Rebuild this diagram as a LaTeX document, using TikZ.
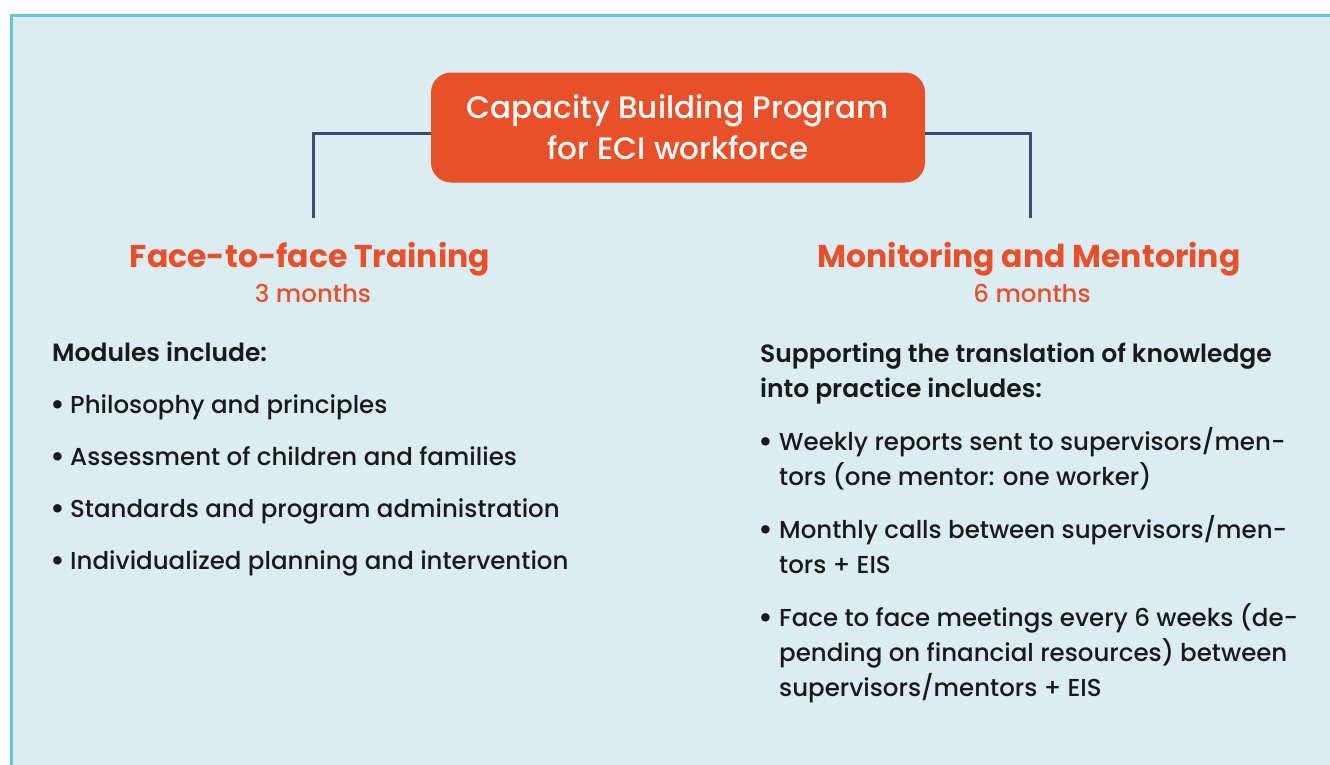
\documentclass[tikz,border=0pt]{standalone}
\usepackage{fontspec}
\setmainfont{Poppins}[UprightFont={* Medium}, BoldFont={* SemiBold}]
\newfontfamily\headfont{Poppins Bold}
\definecolor{panel}{HTML}{DBEDF3}
\definecolor{panelrule}{HTML}{6CC6D2}
\definecolor{accent}{HTML}{E8502A}
\definecolor{link}{HTML}{3D4E6D}
\definecolor{ink}{HTML}{1A1A1A}
\begin{document}
\begin{tikzpicture}[x=1pt,y=-1pt,
  titlebox/.style={fill=accent, rounded corners=20pt, minimum width=494pt,
    minimum height=110pt, text=white, align=center, inner sep=0pt,
    font=\fontsize{31}{41}\selectfont},
  heading/.style={anchor=base, inner sep=0pt, text=accent,
    font=\headfont\fontsize{31.5}{38}\selectfont},
  period/.style={anchor=base, inner sep=0pt, text=accent,
    font=\fontsize{24.5}{28}\selectfont},
  lead/.style={anchor=base west, inner sep=0pt, text=ink,
    font=\bfseries\fontsize{25}{28}\selectfont},
  item/.style={anchor=base west, inner sep=0pt, text=ink,
    font=\fontsize{24.5}{28}\selectfont},
  dot/.style={anchor=base west, inner sep=0pt, text=ink,
    font=\fontsize{32}{28}\selectfont},
  connector/.style={draw=link, line width=3pt}]
\useasboundingbox (0,0) rectangle (1330,764);
% background panel, open to the right and bottom
\fill[panel] (11.5,15.5) rectangle (1345,780);
\draw[panelrule, line width=3.5pt] (11.5,780) -- (11.5,15.5) -- (1345,15.5);

% central box
\node[titlebox] (title) at (678,127.5) {Capacity Building Program\\for ECI workforce};

% column headings
\node[heading] (lefthead) at (310,267) {Face-to-face Training};
\node[period] (leftperiod) at (313,302) {3 months};
\node[heading] (righthead) at (1029,267) {Monitoring and Mentoring};
\node[period] (rightperiod) at (1032,302) {6 months};

% connectors
\coordinate (lend) at (313,218);
\coordinate (rend) at (1030,218);
\draw[connector] ([yshift=-6pt]title.west) -| (lend);
\draw[connector] ([yshift=-6pt]title.east) -| (rend);

% left column
\node[lead] (modules) at (52,361) {Modules include:};
\foreach \y/\t [count=\i] in {413/Philosophy and principles,
    465/Assessment of children and families,
    517/Standards and program administration,
    569/Individualized planning and intervention}{
  \node[dot] (lb\i) at (50,\y+2) {•};
  \node[item] (lt\i) at (70,\y) {\t};
}

% right column
\node[lead] (support1) at (760,362) {Supporting the translation of knowledge};
\node[lead] (support2) at (760,397) {into practice includes:};
\node[dot] (rb1) at (758,452) {•};
\node[item] (r1a) at (779,450) {Weekly reports sent to supervisors/men-};
\node[item] (r1b) at (779,485) {tors (one mentor: one worker)};
\node[dot] (rb2) at (758,540) {•};
\node[item] (r2a) at (779,538) {Monthly calls between supervisors/men-};
\node[item] (r2b) at (779,573) {tors + EIS};
\node[dot] (rb3) at (758,628) {•};
\node[item] (r3a) at (779,626) {Face to face meetings every 6 weeks (de-};
\node[item] (r3b) at (779,661) {pending on financial resources) between};
\node[item] (r3c) at (779,696) {supervisors/mentors + EIS};
\end{tikzpicture}
\end{document}
